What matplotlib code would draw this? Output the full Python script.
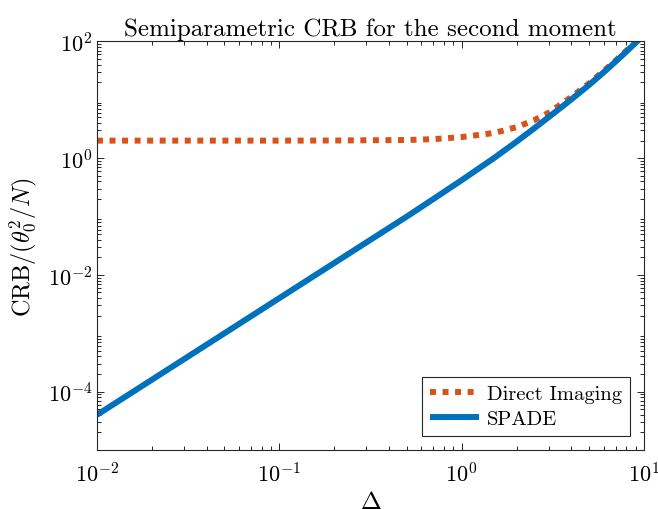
import numpy as np
import matplotlib
matplotlib.use('Agg')
import matplotlib.pyplot as plt

plt.rcParams['font.family'] = 'cmr10'
plt.rcParams['mathtext.fontset'] = 'cm'
plt.rcParams['axes.formatter.use_mathtext'] = True
plt.rcParams['axes.unicode_minus'] = False

# values
delta = [0.01, 0.02, 0.05, 0.1, 0.2, 0.5, 0.7, 1.0, 1.5, 2.0, 2.5,
         3.0, 4.0, 5.0, 6.0, 7.0, 8.0, 9.0, 10.0]
crb_direct = [2.0, 2.0, 2.0, 2.0, 2.01, 2.05, 2.12, 2.3, 2.7, 3.4, 4.5,
              6.0, 11.2, 19.2, 31.0, 47.3, 69.3, 97.9, 133.0]
crb_spade = [4.0e-5, 1.6e-4, 1.0e-3, 4.0e-3, 1.6e-2, 0.10, 0.2, 0.42, 1.0, 1.92, 3.25,
             5.05, 10.2, 18.0, 29.5, 45.5, 67.0, 95.0, 130.0]
labels = ['Direct Imaging', 'SPADE']

c_orange = '#D95319'
c_blue = '#0072BD'
axc = '#262626'

fig = plt.figure(figsize=(6.58, 5.10), dpi=100)
ax = fig.add_axes([0.1474, 0.1157, 0.8313, 0.801])

ax.loglog(delta, crb_direct, color=c_orange, lw=4.3, linestyle=(0, (1, 1.1)),
          dash_capstyle='butt', label=labels[0])
ax.loglog(delta, crb_spade, color=c_blue, lw=4.3, solid_capstyle='butt', label=labels[1])

ax.set_xlim(1e-2, 1e1)
ax.set_ylim(1e-5, 1e2)
ax.set_yticks([1e-4, 1e-2, 1e0, 1e2])
ax.set_xticks([1e-2, 1e-1, 1e0, 1e1])

ax.tick_params(which='both', direction='in', top=True, right=True,
               colors=axc, labelcolor='black', labelsize=16, width=0.7)
ax.tick_params(which='major', length=5)
ax.tick_params(which='minor', length=2.8)
ax.tick_params(axis='x', pad=8)
for s in ax.spines.values():
    s.set_color(axc)
    s.set_linewidth(0.8)

ax.set_title('Semiparametric CRB for the second moment', fontsize=18, pad=5)
ax.set_xlabel(r'$\Delta$', fontsize=18, labelpad=4)
ax.set_ylabel(r'$\mathrm{CRB}/(\theta_0^2/N)$', fontsize=17.5, labelpad=6)

leg = ax.legend(loc='lower right', fontsize=14.8, handlelength=2.35, handletextpad=0.4,
                borderpad=0.4, labelspacing=0.3, fancybox=False, framealpha=1,
                edgecolor=axc, borderaxespad=0.68)
leg.get_frame().set_linewidth(0.8)

fig.savefig('out.png', dpi=100)
